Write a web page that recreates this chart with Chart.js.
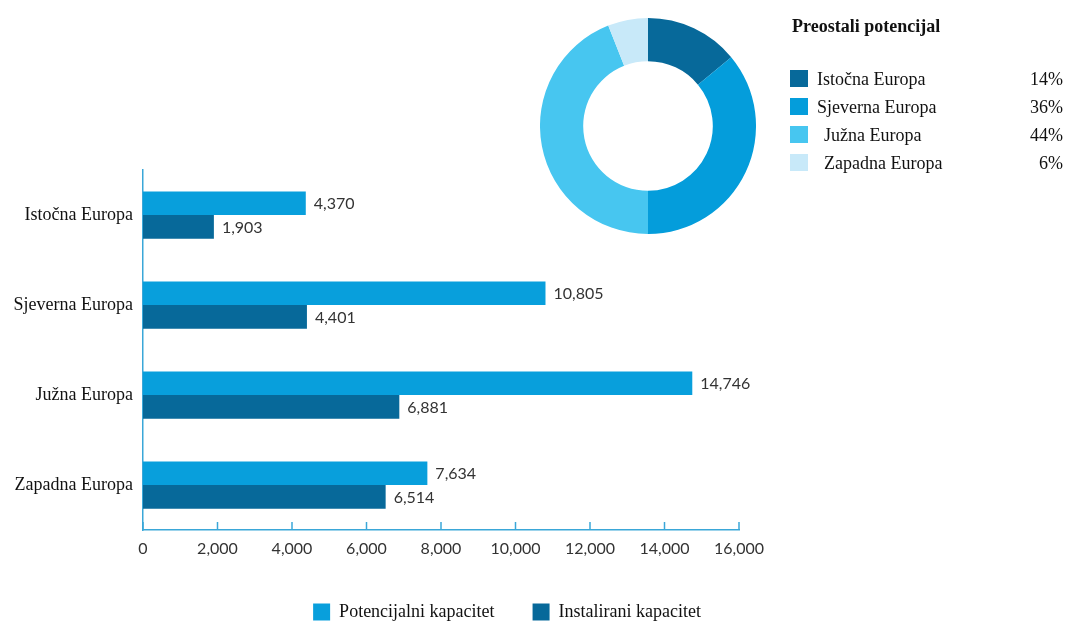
<!DOCTYPE html>
<html>
<head>
<meta charset="utf-8">
<script src="https://cdn.jsdelivr.net/npm/chart.js@4/dist/chart.umd.min.js"></script>
<style>
    body { margin: 0; background: #fff; width: 1068px; height: 623px; overflow: hidden; position: relative; }
    #bar-wrap { position: absolute; left: 0; top: 0; width: 1020px; height: 631px; }
    #donut-wrap { position: absolute; left: 540px; top: 18px; width: 216px; height: 216px; }
    #donut-legend { position: absolute; left: 790px; top: 0; width: 278px; height: 200px; font-family: "Liberation Serif", serif; color: #111; }
    #donut-legend h3 { position: absolute; left: 2px; top: 16px; margin: 0; font-size: 18px; font-weight: bold; white-space: nowrap; }
    .row { position: absolute; left: 0; width: 275px; height: 20px; font-size: 18px; line-height: 20px; }
    .row .sq { position: absolute; left: 0; top: 1px; width: 18px; height: 17px; }
    .row .lbl { position: absolute; top: 0; white-space: nowrap; }
    .row .pct { position: absolute; right: 2px; top: 0; }
</style>
</head>
<body>
<div id="bar-wrap"><canvas id="bar-chart"></canvas></div>
<div id="donut-wrap"><canvas id="donut-chart"></canvas></div>
<div id="donut-legend"></div>

<script>
const regions = ['Istočna Europa', 'Sjeverna Europa', 'Južna Europa', 'Zapadna Europa'];
const potencijalni = [4370, 10805, 14746, 7634];
const instalirani = [1903, 4401, 6881, 6514];
const preostaloPct = [14, 36, 44, 6];
const xTicks = [0, 2000, 4000, 6000, 8000, 10000, 12000, 14000, 16000];

const lightBlue = '#089fdc';
const darkBlue = '#07699a';
const donutColors = ['#07699a', '#049ddb', '#47c6f0', '#c8e9f9'];
const axisBlue = '#3aa7d8';

const fmt = n => n.toLocaleString('en-US');

// Tick marks pointing up from the x axis
const upTicks = {
    id: 'upTicks',
    afterDraw(chart) {
        const x = chart.scales.x;
        const ctx = chart.ctx;
        ctx.save();
        ctx.strokeStyle = axisBlue;
        ctx.lineWidth = 1.5;
        xTicks.forEach(v => {
            const px = x.getPixelForValue(v);
            ctx.beginPath();
            ctx.moveTo(px, x.top);
            ctx.lineTo(px, x.top - 8);
            ctx.stroke();
        });
        ctx.restore();
    }
};

// Value labels at the end of each bar
const valueLabels = {
    id: 'valueLabels',
    afterDatasetsDraw(chart) {
        const ctx = chart.ctx;
        ctx.save();
        ctx.font = '16px Lato, sans-serif';
        ctx.fillStyle = '#333';
        ctx.textBaseline = 'middle';
        chart.data.datasets.forEach((ds, i) => {
            chart.getDatasetMeta(i).data.forEach((bar, j) => {
                ctx.fillText(fmt(ds.data[j]), bar.x + 8, bar.y + 1);
            });
        });
        ctx.restore();
    }
};

new Chart(document.getElementById('bar-chart'), {
    type: 'bar',
    data: {
        labels: regions,
        datasets: [
            { label: 'Potencijalni kapacitet', data: potencijalni, backgroundColor: lightBlue },
            { label: 'Instalirani kapacitet', data: instalirani, backgroundColor: darkBlue }
        ]
    },
    options: {
        indexAxis: 'y',
        responsive: true,
        maintainAspectRatio: false,
        animation: false,
        datasets: { bar: { barPercentage: 1, categoryPercentage: 0.525 } },
        layout: { padding: { top: 170, left: 0, right: 281, bottom: 0 } },
        scales: {
            x: {
                min: 0,
                max: 16000,
                afterBuildTicks: scale => { scale.ticks = xTicks.map(v => ({ value: v })); },
                afterFit: scale => { scale.height = 35; },
                grid: { display: false, drawTicks: false },
                border: { display: true, color: axisBlue, width: 1.5 },
                ticks: {
                    padding: 9,
                    color: '#333',
                    font: { family: 'Lato, sans-serif', size: 16 },
                    callback: v => fmt(v)
                }
            },
            y: {
                afterFit: scale => { scale.width = 143; },
                grid: { display: false, drawTicks: false },
                border: { display: true, color: axisBlue, width: 1.5 },
                ticks: {
                    padding: 10,
                    color: '#111',
                    font: { family: '"Liberation Serif", serif', size: 18 }
                }
            }
        },
        plugins: {
            legend: {
                position: 'bottom',
                align: 'end',
                labels: {
                    boxWidth: 17,
                    boxHeight: 17,
                    padding: 38,
                    color: '#111',
                    font: { family: '"Liberation Serif", serif', size: 18 }
                }
            },
            tooltip: { enabled: false }
        }
    },
    plugins: [upTicks, valueLabels]
});

new Chart(document.getElementById('donut-chart'), {
    type: 'doughnut',
    data: {
        labels: regions,
        datasets: [{ data: preostaloPct, backgroundColor: donutColors, borderWidth: 0 }]
    },
    options: {
        responsive: true,
        maintainAspectRatio: false,
        animation: false,
        cutout: '60%',
        plugins: { legend: { display: false }, tooltip: { enabled: false } }
    }
});

// Legend for the doughnut (last two labels sit slightly indented in the original)
const legendBox = document.getElementById('donut-legend');
let html = '<h3>Preostali potencijal</h3>';
regions.forEach((r, i) => {
    const top = 69 + i * 28;
    const indent = i < 2 ? 27 : 34;
    html += `<div class="row" style="top:${top}px"><span class="sq" style="background:${donutColors[i]}"></span>` +
        `<span class="lbl" style="left:${indent}px">${r}</span><span class="pct">${preostaloPct[i]}%</span></div>`;
});
legendBox.innerHTML = html;
</script>
</body>
</html>
